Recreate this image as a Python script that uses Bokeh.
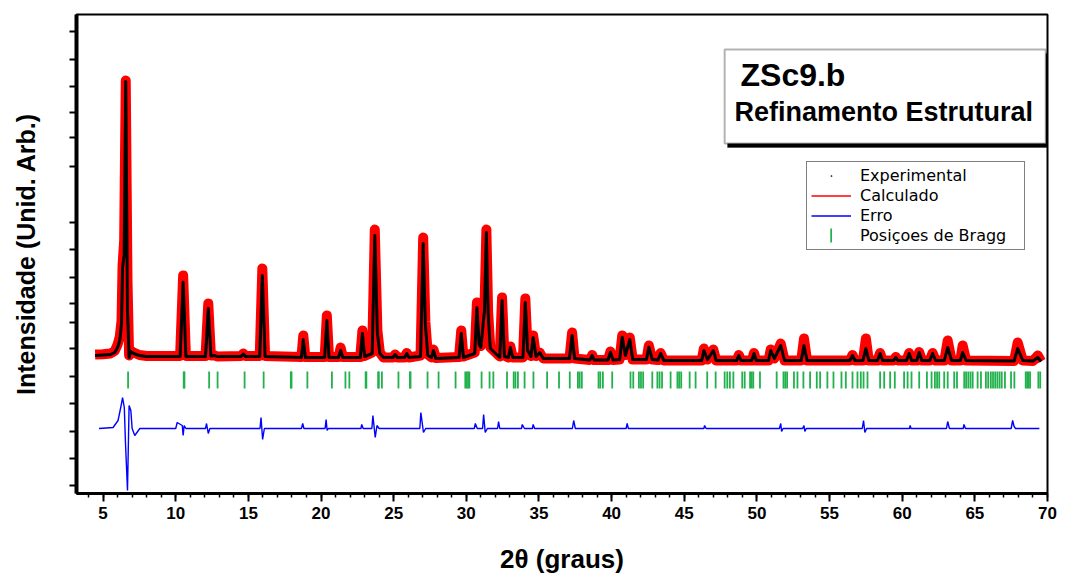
import math
from bokeh.plotting import figure
from bokeh.models import (ColumnDataSource, FixedTicker, SingleIntervalTicker, Legend,
                          LegendItem, BoxAnnotation, Label, Range1d)
from bokeh.embed import file_html
from bokeh.resources import INLINE

# ---------------- data ----------------
# profile: 2-theta, calculated (black) and experimental (red) intensities
two_theta = [4.45, 5.0, 5.5, 5.8, 6.0, 6.15, 6.27, 6.34, 6.45, 6.56, 6.68, 6.79, 6.9, 7.1, 7.5, 8.0,
             10.3, 10.51, 10.7, 12.05, 12.24, 12.42, 12.7, 12.85, 14.5, 14.65, 14.8,
             15.78, 15.96, 16.15, 18.65, 18.78, 18.92, 20.25, 20.40, 20.55, 21.2, 21.35, 21.5,
             22.7, 22.85, 23.0, 23.52, 23.70, 23.88, 24.05, 24.3, 24.95, 25.1, 25.25, 25.75, 25.9, 26.05,
             26.85, 27.03, 27.18, 27.35, 27.6, 27.74, 27.9, 29.5, 29.65, 29.8,
             30.58, 30.73, 30.88, 31.0, 31.25, 31.38, 31.5, 31.65, 32.3, 32.46, 32.62,
             32.9, 33.03, 33.2, 33.9, 34.06, 34.22, 34.45, 34.6, 34.8, 35.05, 35.3,
             37.1, 37.28, 37.45, 38.5, 38.66, 38.8, 39.75, 39.92, 40.1, 40.55, 40.73, 40.95,
             41.25, 41.45, 42.4, 42.56, 42.8, 43.2, 43.37, 43.6, 46.2, 46.35, 46.6, 47.0, 47.2,
             48.6, 48.76, 48.9, 49.65, 49.8, 49.95, 50.8, 50.95, 51.2, 51.64, 51.9,
             53.05, 53.24, 53.45, 56.4, 56.58, 56.75, 57.3, 57.5, 57.7, 58.3, 58.48, 58.65,
             59.4, 59.56, 59.7, 60.3, 60.48, 60.65, 61.0, 61.17, 61.35, 61.9, 62.09, 62.3,
             62.9, 63.13, 63.4, 64.0, 64.16, 64.4, 67.7, 67.95, 68.3, 69.0, 69.33, 69.56]
calc = [450, 455, 460, 480, 530, 600, 770, 1330, 1450, 3190, 900, 430, 490, 470, 450, 440,
        440, 1183, 440, 440, 920, 445, 450, 440, 440, 465, 440,
        440, 1250, 440, 430, 610, 430, 430, 800, 430, 430, 500, 430,
        430, 670, 440, 470, 1650, 670, 470, 430, 430, 460, 430, 430, 470, 430,
        440, 1570, 760, 450, 430, 500, 420, 430, 670, 430,
        470, 930, 560, 530, 900, 1680, 870, 520, 430, 1000, 440,
        430, 530, 430, 430, 980, 500, 440, 630, 440, 480, 420,
        420, 650, 420, 405, 450, 405, 405, 483, 405, 410, 633, 450,
        610, 410, 410, 533, 410, 405, 470, 400, 400, 500, 410, 500, 400,
        400, 450, 400, 400, 470, 400, 400, 500, 420, 550, 400,
        400, 550, 400, 400, 450, 400, 400, 520, 400, 400, 470, 400,
        400, 430, 400, 400, 470, 400, 400, 480, 400, 400, 470, 400,
        400, 530, 400, 400, 480, 400, 395, 520, 400, 395, 430, 390]
obs = [460, 462, 470, 495, 560, 640, 800, 1350, 1600, 3200, 1200, 450, 500, 480, 455, 445,
       445, 1250, 445, 445, 970, 450, 450, 440, 445, 470, 445,
       445, 1320, 445, 435, 650, 435, 435, 850, 435, 435, 530, 435,
       435, 700, 445, 480, 1710, 700, 480, 430, 430, 460, 430, 430, 475, 430,
       450, 1630, 790, 460, 430, 510, 425, 435, 700, 440,
       480, 980, 580, 545, 920, 1710, 890, 530, 440, 1030, 450,
       430, 540, 430, 430, 1020, 510, 445, 650, 445, 480, 420,
       420, 680, 420, 405, 455, 405, 405, 490, 405, 410, 650, 455,
       630, 410, 410, 550, 410, 405, 475, 400, 400, 520, 410, 510, 400,
       400, 455, 400, 400, 475, 400, 400, 510, 420, 570, 400,
       400, 620, 400, 400, 455, 400, 400, 620, 400, 400, 475, 400,
       400, 435, 400, 400, 475, 400, 400, 485, 400, 400, 475, 400,
       400, 600, 400, 400, 550, 400, 395, 580, 400, 395, 450, 390]

# difference curve (Erro)
err_theta = [4.72, 5.69, 6.03, 6.27, 6.34, 6.46, 6.54, 6.68, 6.79, 6.91, 7.0, 7.18, 7.53,
             10.0, 10.1, 10.45, 10.51, 10.58, 10.7, 12.05, 12.12, 12.24, 12.35,
             15.8, 15.87, 15.98, 16.1, 18.65, 18.74, 18.82, 20.28, 20.35, 20.42, 20.5,
             22.75, 22.8, 22.9, 23.5, 23.57, 23.73, 23.85, 24.0, 26.8, 26.87, 27.05, 27.2,
             30.55, 30.62, 30.75, 31.12, 31.19, 31.3, 31.45, 32.15, 32.22, 32.3,
             33.8, 33.85, 34.0, 34.55, 34.6, 34.7, 37.3, 37.39, 37.5, 41.0, 41.07, 41.15,
             46.35, 46.4, 46.5, 51.55, 51.64, 51.7, 51.8, 53.15, 53.24, 53.3, 53.4,
             57.25, 57.34, 57.43, 57.55, 60.5, 60.55, 60.6, 63.05, 63.13, 63.25,
             64.2, 64.25, 64.35, 67.5, 67.6, 67.7, 67.8, 69.44]
err = [0, 10, 80, 250, 310, 210, -140, -620, 230, 180, 0, -70, 0,
       0, 60, 30, -70, 30, 0, 0, 50, -50, 0,
       0, 110, -110, 0, 0, 50, 0, 0, 90, -20, 0,
       0, 40, 0, 0, 130, -90, 30, 0, 0, 160, -40, 0,
       0, 50, 0, 0, 140, -40, 0, 0, 70, 0,
       0, 40, 0, 0, 40, 0, 0, 80, 0, 0, 50, 0,
       0, 30, 0, 0, 50, -30, 0, 0, 30, -30, 0,
       0, 80, -40, 0, 0, 30, 0, 0, 70, 0,
       0, 40, 0, 0, 80, 20, 0, 0]
err_offset = -280

# Bragg reflection positions
bragg = [6.72, 10.55, 10.60, 12.30, 12.88, 14.74, 16.05, 17.92, 17.97, 19.06, 20.75, 21.68, 21.95,
         23.07, 23.12, 23.93, 23.98, 24.19, 25.33, 26.12, 26.16, 27.33, 28.09, 29.26, 29.93, 30.02,
         30.12, 30.21, 31.05, 31.60, 31.86, 32.80, 33.26, 33.38, 33.55, 34.01, 34.62, 35.56, 36.38,
         37.12, 37.68, 37.80, 37.95, 39.10, 39.22, 39.40, 40.04, 41.30, 41.49, 41.88, 42.02, 42.17,
         42.80, 43.15, 43.30, 43.47, 44.06, 44.53, 44.65, 44.79, 45.37, 45.78, 46.58, 47.16, 47.78,
         47.96, 48.14, 48.38, 48.99, 49.16, 49.53, 49.64, 49.75, 50.21, 51.36, 51.83, 51.95, 52.08,
         52.55, 52.79, 53.20, 53.66, 54.12, 54.35, 54.85, 55.27, 55.82, 56.12, 56.58, 56.92, 57.15,
         57.34, 57.61, 58.48, 58.76, 59.17, 59.49, 60.13, 60.37, 60.64, 61.17, 61.70, 62.02, 62.25,
         62.40, 62.55, 62.89, 63.13, 63.58, 63.77, 64.27, 64.40, 64.55, 64.70, 64.85, 65.19, 65.42,
         65.76, 65.92, 66.10, 66.25, 66.40, 66.55, 66.70, 66.85, 67.07, 67.49, 67.72, 68.50, 68.60,
         68.70, 68.80, 69.37, 69.50]
bragg_low, bragg_high = 120, 290

y_ticks = [3690, 3410, 3140, 2880, 2630, 2340, 1780, 1510, 1230, 970, 780, 520, 240, -30, -310, -580, -850]

FONT = "Liberation Sans"
BRAGG_GREEN = "#22b14c"

# ---------------- figure ----------------
p = figure(width=1066, height=581, output_backend="svg", toolbar_location=None,
           x_range=Range1d(3.17, 70), y_range=Range1d(-930, 3860),
           min_border_left=76, min_border_right=19, min_border_top=14, min_border_bottom=88)
p.grid.visible = False
p.outline_line_color = "black"
p.outline_line_width = 2
p.background_fill_color = "white"
p.border_fill_color = "white"

src = ColumnDataSource(dict(t=two_theta, calc=calc, obs=obs))
p.line("t", "obs", source=src, line_color="#ff0000", line_width=10, line_join="round")
p.line("t", "calc", source=src, line_color="black", line_width=3, line_join="round")

esrc = ColumnDataSource(dict(t=err_theta, e=[v + err_offset for v in err]))
p.line("t", "e", source=esrc, line_color="#0000ff", line_width=1.4)

bsrc = ColumnDataSource(dict(t=bragg, y0=[bragg_low] * len(bragg), y1=[bragg_high] * len(bragg)))
p.segment(x0="t", y0="y0", x1="t", y1="y1", source=bsrc, line_color=BRAGG_GREEN, line_width=1.8)

# vertical green tick used as the Bragg legend symbol (shows through the legend's glyph slot)
p.add_layout(BoxAnnotation(left=55.05, right=55.17, top=1720, bottom=1580,
                           fill_color=BRAGG_GREEN, fill_alpha=1, line_alpha=0, level="annotation"))

# legend glyphs (renderers styled as in the reference legend; single point kept off-frame)
off = dict(x=[-100], y=[-10000])
r_exp = p.scatter(marker="dot", line_color="black", fill_color="black", size=10, **off)
r_calc = p.line(line_color="#ff0000", line_width=1.5, **off)
r_err = p.line(line_color="#0000ff", line_width=1.5, **off)
r_bragg = p.scatter(marker="dash", line_color=BRAGG_GREEN, line_alpha=0, size=8, **off)

legend = Legend(items=[LegendItem(label="Experimental", renderers=[r_exp]),
                       LegendItem(label="Calculado", renderers=[r_calc]),
                       LegendItem(label="Erro", renderers=[r_err]),
                       LegendItem(label="Posiçoes de Bragg", renderers=[r_bragg])],
                location=(730, 243), glyph_width=40, glyph_height=17, spacing=1, padding=4,
                label_standoff=9, label_width=160, margin=0,
                border_line_color="black", border_line_width=1.5,
                background_fill_alpha=0,
                label_text_font="DejaVu Sans", label_text_font_size="16px", label_height=17,
                label_text_color="black")
p.add_layout(legend)

# title box with shadow
p.add_layout(BoxAnnotation(left=47.98, right=70.2, top=3470, bottom=2530,
                           fill_color="black", fill_alpha=1, line_color="black", level="annotation"))
p.add_layout(BoxAnnotation(left=47.78, right=69.88, top=3510, bottom=2570,
                           fill_color="white", fill_alpha=1, line_color="black", line_width=2,
                           level="annotation"))
p.add_layout(Label(x=48.87, y=3080, text="ZSc9.b", text_font=FONT, text_font_style="bold",
                   text_font_size="32px", text_color="black", level="annotation"))
p.add_layout(Label(x=48.46, y=2740, text="Refinamento Estrutural", text_font=FONT,
                   text_font_style="bold", text_font_size="27px", text_color="black",
                   level="annotation"))

# axes
xa = p.xaxis[0]
xa.ticker = SingleIntervalTicker(interval=5, num_minor_ticks=5)
xa.axis_line_width = 3
xa.major_tick_line_width = 2
xa.minor_tick_line_width = 1.5
xa.major_tick_out = 8
xa.major_tick_in = 0
xa.minor_tick_out = 4
xa.minor_tick_in = 0
xa.major_label_text_font = FONT
xa.major_label_text_font_style = "bold"
xa.major_label_text_font_size = "17px"
xa.major_label_text_color = "black"
xa.major_label_standoff = 5
xa.axis_label = "2θ (graus)"
xa.axis_label_text_font = FONT
xa.axis_label_text_font_style = "bold"
xa.axis_label_text_font_size = "26px"
xa.axis_label_text_color = "black"
xa.axis_label_standoff = 22

ya = p.yaxis[0]
ya.ticker = FixedTicker(ticks=[], minor_ticks=y_ticks)
ya.axis_line_width = 4
ya.major_tick_out = 0
ya.major_tick_in = 0
ya.minor_tick_line_width = 2
ya.minor_tick_out = 7
ya.minor_tick_in = 0
ya.major_label_standoff = 0
ya.axis_label = "Intensidade (Unid. Arb.)"
ya.axis_label_text_font = FONT
ya.axis_label_text_font_style = "bold"
ya.axis_label_text_font_size = "25px"
ya.axis_label_text_color = "black"
ya.axis_label_standoff = 30

open("out.html", "w").write(file_html(p, INLINE))
